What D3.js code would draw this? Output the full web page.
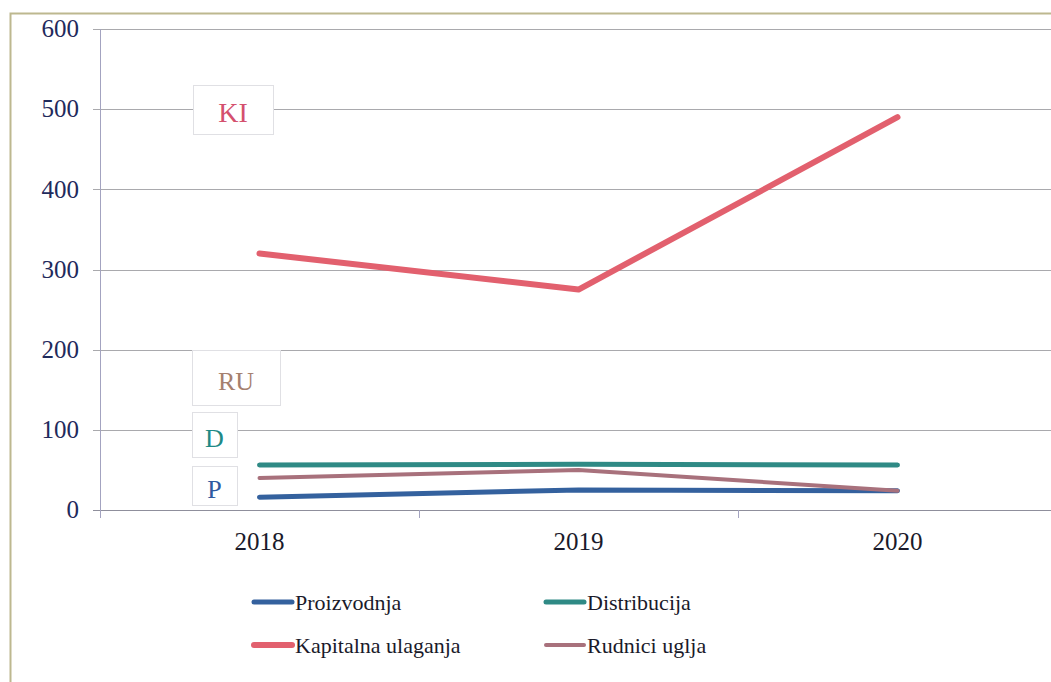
<!DOCTYPE html>
<html>
<head>
<meta charset="utf-8">
<script src="https://cdn.jsdelivr.net/npm/d3@7"></script>
<style>
  body { margin: 0; background: #fff; }
</style>
</head>
<body>
<div id="chart"></div>
<script>
// data
var years = ["2018", "2019", "2020"];
var proizvodnja = [16, 25, 24];
var distribucija = [56, 57, 56];
var kapitalna = [320, 275, 490];
var rudnici = [40, 50, 24];
var yTicks = [0, 100, 200, 300, 400, 500, 600];

var series = [
  {name: "Proizvodnja", short: "P", values: proizvodnja, color: "#34619e", width: 5},
  {name: "Distribucija", short: "D", values: distribucija, color: "#2f8a85", width: 5},
  {name: "Kapitalna ulaganja", short: "KI", values: kapitalna, color: "#e2606e", width: 6},
  {name: "Rudnici uglja", short: "RU", values: rudnici, color: "#a8717c", width: 4}
];

var serif = "Liberation Serif";

var W = 1051, H = 682;
var margin = {top: 29, right: -10, bottom: 172, left: 100};
var width = W - margin.left - margin.right,
    height = H - margin.top - margin.bottom;

var svg = d3.select("#chart")
  .append("svg")
    .attr("width", W)
    .attr("height", H)
    .attr("font-family", serif);

// outer frame
svg.append("path")
  .attr("d", "M10.5," + H + " V13.5 H" + W)
  .attr("fill", "none")
  .attr("stroke", "#bdb88f")
  .attr("stroke-width", 2);

var g = svg.append("g")
  .attr("transform", "translate(" + margin.left + "," + margin.top + ")");

var x = d3.scaleBand()
  .domain(years)
  .range([0, 957]);

var y = d3.scaleLinear()
  .domain([0, 600])
  .range([height, 0]);

// gridlines
g.selectAll(".grid")
  .data(yTicks)
  .enter()
  .append("line")
    .attr("x1", -7)
    .attr("x2", width + 20)
    .attr("y1", function(d) { return Math.round(y(d)) + 0.5; })
    .attr("y2", function(d) { return Math.round(y(d)) + 0.5; })
    .attr("stroke", function(d) { return d == 0 ? "#8f8f9c" : "#a9a9ad"; })
    .attr("stroke-width", 1);

// y axis line
g.append("line")
  .attr("x1", 0.5).attr("x2", 0.5)
  .attr("y1", 0).attr("y2", height + 8)
  .attr("stroke", "#a3a3c0");

// y tick labels
g.selectAll(".ylab")
  .data(yTicks)
  .enter()
  .append("text")
    .attr("x", -21)
    .attr("y", function(d) { return y(d); })
    .attr("dy", "0.33em")
    .attr("text-anchor", "end")
    .attr("fill", "#1f2a5c")
    .attr("font-size", 25)
    .text(function(d) { return d; });

// x ticks between categories
g.selectAll(".xtick")
  .data(years.slice(1))
  .enter()
  .append("line")
    .attr("x1", function(d) { return Math.round(x(d)) + 0.5; })
    .attr("x2", function(d) { return Math.round(x(d)) + 0.5; })
    .attr("y1", height)
    .attr("y2", height + 8)
    .attr("stroke", "#a3a3c0");

// x labels
g.selectAll(".xlab")
  .data(years)
  .enter()
  .append("text")
    .attr("x", function(d) { return x(d) + x.bandwidth() / 2; })
    .attr("y", height + 40)
    .attr("text-anchor", "middle")
    .attr("fill", "#1a1a2a")
    .attr("font-size", 25)
    .text(function(d) { return d; });

// lines
var line = d3.line()
  .x(function(d, i) { return x(years[i]) + x.bandwidth() / 2; })
  .y(function(d) { return y(d); });

g.selectAll(".series")
  .data(series)
  .enter()
  .append("path")
    .attr("d", function(d) { return line(d.values); })
    .attr("fill", "none")
    .attr("stroke", function(d) { return d.color; })
    .attr("stroke-width", function(d) { return d.width; })
    .attr("stroke-linecap", "round")
    .attr("stroke-linejoin", "round");

// short label boxes
var boxes = [
  {s: series[2], x: 93, y: 56, w: 80, h: 49, size: 28, color: "#d4506e"},
  {s: series[3], x: 92, y: 321, w: 88, h: 55, size: 26, color: "#a5806f"},
  {s: series[1], x: 92, y: 383, w: 45, h: 45, size: 26, color: "#1f8a86"},
  {s: series[0], x: 92, y: 437, w: 45, h: 39, size: 26, color: "#2f5aa0"}
];
var bx = g.selectAll(".box")
  .data(boxes)
  .enter()
  .append("g")
    .attr("transform", function(d) { return "translate(" + d.x + "," + d.y + ")"; });
bx.append("rect")
  .attr("x", 0.5).attr("y", 0.5)
  .attr("width", function(d) { return d.w; })
  .attr("height", function(d) { return d.h; })
  .attr("fill", "#fff")
  .attr("stroke", "#e0e0e4");
bx.append("text")
  .attr("x", function(d) { return d.w / 2; })
  .attr("y", function(d) { return d.h / 2 + 3; })
  .attr("dy", "0.35em")
  .attr("text-anchor", "middle")
  .attr("fill", function(d) { return d.color; })
  .attr("font-size", function(d) { return d.size; })
  .text(function(d) { return d.s.short; });

// legend
var legend = svg.selectAll(".legend")
  .data(series)
  .enter()
  .append("g")
    .attr("transform", function(d, i) {
      return "translate(" + (i % 2 == 0 ? 254 : 546) + "," + (i < 2 ? 602 : 645) + ")";
    });
legend.append("line")
  .attr("x1", 0).attr("x2", 38)
  .attr("stroke", function(d) { return d.color; })
  .attr("stroke-width", function(d) { return d.width; })
  .attr("stroke-linecap", "round");
legend.append("text")
  .attr("x", 41)
  .attr("dy", "0.35em")
  .attr("fill", "#1a1a2a")
  .attr("font-size", 22)
  .text(function(d) { return d.name; });
</script>
</body>
</html>
